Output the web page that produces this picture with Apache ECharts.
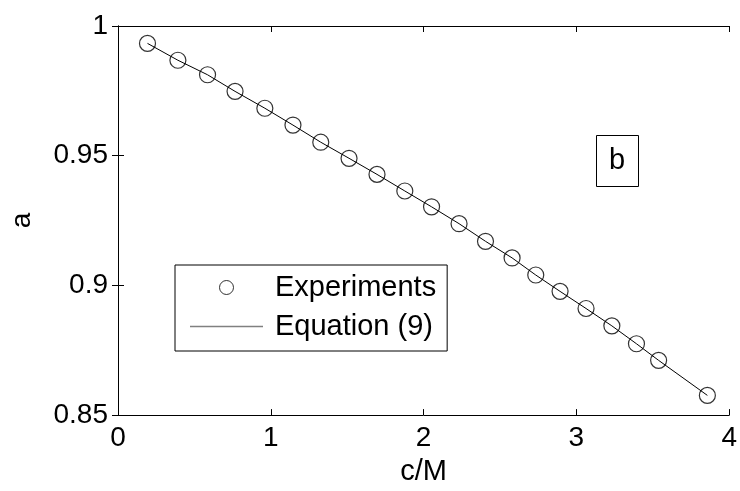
<!DOCTYPE html>
<html>
<head>
<meta charset="utf-8">
<script src="https://cdn.jsdelivr.net/npm/echarts@6/dist/echarts.min.js"></script>
<style>html,body{margin:0;padding:0;background:#fff;}#c{width:740px;height:491px;}</style>
</head>
<body>
<div id="c"></div>
<script>
var xValues = [0.193, 0.392, 0.586, 0.766, 0.961, 1.145, 1.327, 1.512, 1.695, 1.877, 2.052, 2.232, 2.405, 2.579, 2.734, 2.893, 3.063, 3.232, 3.393, 3.538, 3.857];
var expValues = [0.9933, 0.9868, 0.9812, 0.9748, 0.9683, 0.9618, 0.9552, 0.9490, 0.9428, 0.9364, 0.9303, 0.9238, 0.9170, 0.9106, 0.9040, 0.8977, 0.8911, 0.8844, 0.8775, 0.8711, 0.8576];
var eqValues = [0.9933, 0.9868, 0.9812, 0.9748, 0.9683, 0.9618, 0.9552, 0.9490, 0.9428, 0.9364, 0.9303, 0.9238, 0.9170, 0.9106, 0.9040, 0.8977, 0.8911, 0.8844, 0.8775, 0.8711, 0.8576];
var seriesNames = ['Experiments', 'Equation (9)'];
var xTicks = {min: 0, max: 4, interval: 1};
var yTicks = {min: 0.85, max: 1, interval: 0.05};
var panelLabel = 'b';

var FONT = 'Liberation Sans, Arial, sans-serif';
var chart = echarts.init(document.getElementById('c'), null, {renderer: 'canvas'});
function pairs(xs, ys) { return xs.map(function (x, i) { return [x, ys[i]]; }); }
var axisCommon = {
  axisLine: {show: true, lineStyle: {color: '#000', width: 1}},
  axisTick: {show: true, inside: true, length: 6, lineStyle: {color: '#000'}},
  splitLine: {show: false}
};
chart.setOption({
  animation: false,
  backgroundColor: '#fff',
  grid: {left: 113, right: 10, top: 26, bottom: 72, containLabel: false},
  xAxis: [
    Object.assign({type: 'value', min: xTicks.min, max: xTicks.max, interval: xTicks.interval, position: 'bottom',
      name: 'c/M', nameLocation: 'middle', nameGap: 33,
      nameTextStyle: {fontFamily: FONT, fontSize: 29, color: '#000'},
      axisLabel: {fontFamily: FONT, fontSize: 28, color: '#000', margin: 9}}, axisCommon),
    Object.assign({type: 'value', min: xTicks.min, max: xTicks.max, interval: xTicks.interval, position: 'top',
      axisLabel: {show: false}}, axisCommon)
  ],
  yAxis: [
    Object.assign({type: 'value', min: yTicks.min, max: yTicks.max, interval: yTicks.interval, position: 'left',
      name: 'a', nameLocation: 'middle', nameGap: 82, nameRotate: 90,
      nameTextStyle: {fontFamily: FONT, fontSize: 28, color: '#000'},
      axisLabel: {fontFamily: FONT, fontSize: 28, color: '#000', margin: 10}}, axisCommon),
    Object.assign({type: 'value', min: yTicks.min, max: yTicks.max, interval: yTicks.interval, position: 'right',
      axisLabel: {show: false}}, axisCommon)
  ],
  legend: {
    left: 175, top: 265, orient: 'vertical',
    borderColor: '#000', borderWidth: 1, backgroundColor: '#fff',
    padding: [8, 11, 10, 15], itemGap: 10, itemWidth: 73, itemHeight: 14,
    textStyle: {fontFamily: FONT, fontSize: 29, color: '#000', lineHeight: 25, padding: [0, 0, 0, 7]},
    data: [
      {name: seriesNames[0], icon: 'circle', itemStyle: {color: 'rgba(0,0,0,0)', borderColor: '#000', borderWidth: 1}},
      {name: seriesNames[1], icon: 'path://M0,0L73,0L73,1.3L0,1.3Z', itemStyle: {color: '#808080', borderWidth: 0}}
    ]
  },
  series: [
    {
      name: seriesNames[1], type: 'line', xAxisIndex: 0, yAxisIndex: 0,
      data: pairs(xValues, eqValues), symbol: 'none', showSymbol: false,
      lineStyle: {color: '#000', width: 1}, itemStyle: {color: '#000'}, z: 2
    },
    {
      name: seriesNames[0], type: 'scatter', xAxisIndex: 0, yAxisIndex: 0,
      data: pairs(xValues, expValues), symbol: 'circle', symbolSize: 16,
      itemStyle: {color: 'rgba(0,0,0,0)', borderColor: '#000', borderWidth: 1.2}, z: 3
    }
  ],
  graphic: [
    {type: 'rect', left: 596, top: 135, shape: {width: 42, height: 51},
      style: {fill: '#fff', stroke: '#000', lineWidth: 1}, z: 10},
    {type: 'text', x: 617, y: 161, style: {text: panelLabel, font: '29px ' + FONT, fill: '#000', align: 'center', verticalAlign: 'middle'}, z: 11}
  ]
});
</script>
</body>
</html>
